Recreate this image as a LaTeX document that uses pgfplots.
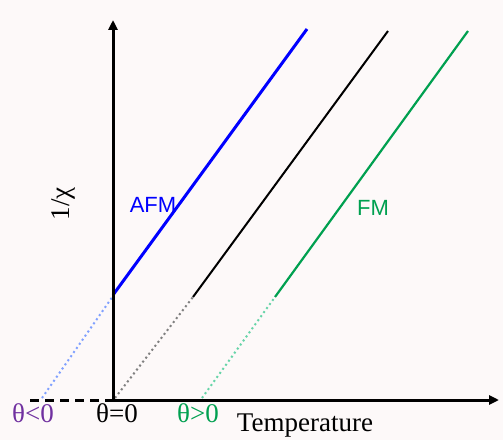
\documentclass[border=0pt]{standalone}
\usepackage{fontspec}
\setmainfont{Liberation Serif}
\newfontfamily\arial{Liberation Sans}
\usepackage{pgfplots}
\pgfplotsset{compat=1.18}
\usetikzlibrary{arrows.meta}
\definecolor{bgpink}{HTML}{FDF9F9}
\definecolor{afm}{HTML}{0000FF}
\definecolor{afmdot}{HTML}{80A0FF}
\definecolor{fm}{HTML}{00A050}
\definecolor{fmdot}{HTML}{66D4A8}
\definecolor{pmdot}{HTML}{808080}
\definecolor{thneg}{HTML}{7030A0}
\begin{document}
\begin{tikzpicture}
\fill[bgpink] (0,0) rectangle (503pt,440pt);
\begin{axis}[
  scale only axis, width=503pt, height=440pt,
  xmin=0, xmax=503, ymin=0, ymax=440,
  hide axis, clip=false,
]
% extrapolations (dotted)
\addplot[afmdot, line width=2pt, dash pattern=on 2pt off 3pt] coordinates {(42,42) (113,144)};
\addplot[pmdot, line width=2pt, dash pattern=on 2pt off 3pt] coordinates {(115,42) (193,143)};
\addplot[fmdot, line width=2pt, dash pattern=on 2pt off 3pt] coordinates {(202,42) (275,143)};
% Curie-Weiss lines
\addplot[afm, line width=3pt] coordinates {(113,145) (307,411)};
\addplot[black, line width=2pt] coordinates {(193,143) (388,409)};
\addplot[fm, line width=2.2pt] coordinates {(275,143) (468,409)};
% axes
\addplot[black, line width=3pt, dash pattern=on 9pt off 6pt] coordinates {(30,40) (113,40)};
\addplot[black, line width=3pt, -{Triangle[length=10pt,width=9pt]}] coordinates {(113,40) (113,420)};
\addplot[black, line width=3pt, -{Triangle[length=10pt,width=9pt]}] coordinates {(112,40) (499,40)};
% labels
\node[text=afm, font=\arial\fontsize{22}{22}\selectfont] at (axis cs:153,235) {AFM};
\node[text=fm, font=\arial\fontsize{22}{22}\selectfont] at (axis cs:373,232) {FM};
\node[text=thneg, font=\fontsize{27}{27}\selectfont] at (axis cs:33,27) {θ<0};
\node[text=black, font=\fontsize{27}{27}\selectfont] at (axis cs:117,27) {θ=0};
\node[text=fm, font=\fontsize{27}{27}\selectfont] at (axis cs:198,27) {θ>0};
\node[text=black, font=\fontsize{27}{27}\selectfont] at (axis cs:305,14) {Temperature};
\node[text=black, rotate=90, font=\fontsize{27}{27}\selectfont] at (axis cs:63,236) {1/χ};
\end{axis}
\end{tikzpicture}
\end{document}
